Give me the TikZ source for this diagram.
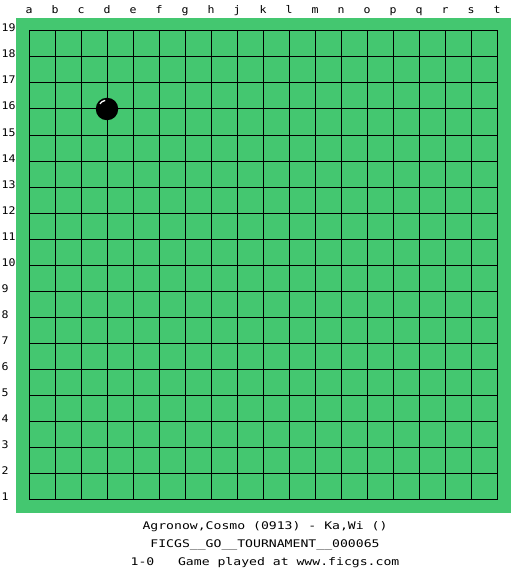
\documentclass[tikz,border=0pt]{standalone}
\usepackage{fontspec}
\newfontfamily\labelfont{DejaVu Sans Mono}[FakeStretch=1.1]
\newfontfamily\infofont{DejaVu Sans Mono}[FakeStretch=1.25]
\definecolor{boardgreen}{RGB}{68,199,112}

\begin{document}
\begin{tikzpicture}[
        x=1pt, y=-1pt,
        gridline/.style={draw=black, line width=1pt, line cap=rect},
        coordlabel/.style={font=\labelfont\fontsize{10.5}{10.5}\selectfont, inner sep=0pt},
        infoline/.style={font=\infofont\fontsize{10.5}{10.5}\selectfont, inner sep=0pt, anchor=base},
        stone/.style={circle, fill=black, minimum size=22.5pt, inner sep=0pt}
    ]
    \useasboundingbox[fill=white] (0,0) rectangle (525,575);

    % Board
    \fill[boardgreen] (16,18) rectangle (511,513);
    \foreach \i in {0,...,18} {
        \draw[gridline] ({29+26*\i},31) -- ({29+26*\i},499);
        \draw[gridline] (29,{31+26*\i}) -- (497,{31+26*\i});
    }

    % Coordinates
    \foreach \l [count=\i from 0] in {a,b,c,d,e,f,g,h,j,k,l,m,n,o,p,q,r,s,t}
        \node[coordlabel, anchor=base] (col\l) at ({29+26*\i},14) {\l};
    \foreach \n in {1,...,19}
        \node[coordlabel, anchor=base west] (row\n) at (1.5,{32+26*(19-\n)}) {\n};

    % Stone on d16
    \node[stone] (d16) at (107,109) {};
    \draw[white, line width=1.3pt] (d16.center) ++(216:8.8) arc[start angle=216, end angle=258, radius=8.8];

    % Game info
    \node[infoline] (players) at (265,529) {Agronow,Cosmo (0913) - Ka,Wi ()};
    \node[infoline] (event) at (265,547) {FICGS\_\_GO\_\_TOURNAMENT\_\_000065};
    \node[infoline] (result) at (265,565) {1-0\ \ \ Game played at www.ficgs.com};
\end{tikzpicture}
\end{document}
